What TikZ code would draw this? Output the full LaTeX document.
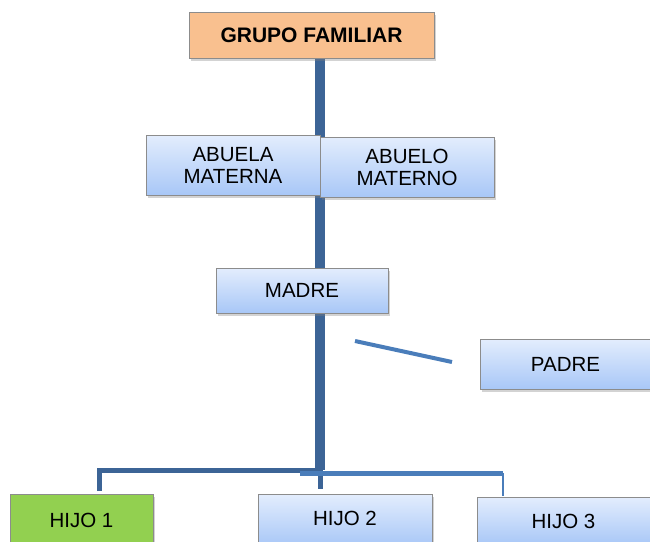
\documentclass[tikz,border=0pt]{standalone}
\usepackage{fontspec}
\setmainfont{Liberation Sans}
\usetikzlibrary{shadows,backgrounds}
\definecolor{trunkc}{HTML}{3C6496}
\definecolor{linec}{HTML}{4A7DBA}
\definecolor{boxtop}{HTML}{E3EDFD}
\definecolor{boxbot}{HTML}{A8C7F7}
\definecolor{orangec}{HTML}{F9C08F}
\definecolor{greenc}{HTML}{92D050}
\tikzset{
  pbox/.style={draw=black!45, line width=0.8pt, inner sep=0pt, align=center,
    font=\fontsize{20.5}{22}\selectfont,
    drop shadow={opacity=0.35, shadow xshift=2pt, shadow yshift=-3pt}},
  bluebox/.style={pbox, top color=boxtop, bottom color=boxbot},
  trunk/.style={trunkc, line width=10pt},
  thinlink/.style={linec, line width=4pt},
}
\begin{document}
\begin{tikzpicture}[x=1pt,y=-1pt]
\useasboundingbox (0,0) rectangle (650,541);
% nodes
\node[pbox, fill=orangec, minimum width=245pt, minimum height=46pt, font=\fontsize{21}{22}\selectfont\bfseries] (grupo) at (311.5,35) {GRUPO FAMILIAR};
\node[bluebox, minimum width=174pt, minimum height=60pt] (abuela) at (233,165) {ABUELA\\MATERNA};
\node[bluebox, minimum width=174pt, minimum height=60pt] (abuelo) at (407,167) {ABUELO\\MATERNO};
\node[bluebox, minimum width=172pt, minimum height=45pt] (madre) at (302,290.5) {MADRE};
\node[bluebox, minimum width=171pt, minimum height=50pt] (padre) at (565.5,364) {PADRE};
\node[pbox, fill=greenc, minimum width=143pt, minimum height=52pt] (hijo1) at (81.5,520) {HIJO 1};
\node[bluebox, minimum width=174pt, minimum height=52pt] (hijo2) at (345,520) {\raisebox{4pt}{HIJO 2}};
\node[bluebox, minimum width=173pt, minimum height=48pt] (hijo3) at (563.5,521) {HIJO 3};
% coordinates
\coordinate (ttop) at (320,58);
\coordinate (tbot) at (320,470);
\coordinate (hl) at (99,470);
\coordinate (hl2) at (99,491);
\coordinate (hm) at (320,489);
\coordinate (hr0) at (300,473);
\coordinate (hr) at (503,473);
\coordinate (hr2) at (503,496);
\coordinate (p1) at (355,341);
\coordinate (p2) at (452,362);
\begin{scope}[on background layer]
\draw[trunk] (ttop) -- (tbot);
\draw[trunkc, line width=5pt] (hl2) -- (hl) -- (tbot) -- (hm);
\draw[linec, line width=5pt] (hr0) -- (hr);
\draw[linec, line width=2pt] (hr) -- (hr2);
\end{scope}
\draw[thinlink] (p1) -- (p2);
\end{tikzpicture}
\end{document}
